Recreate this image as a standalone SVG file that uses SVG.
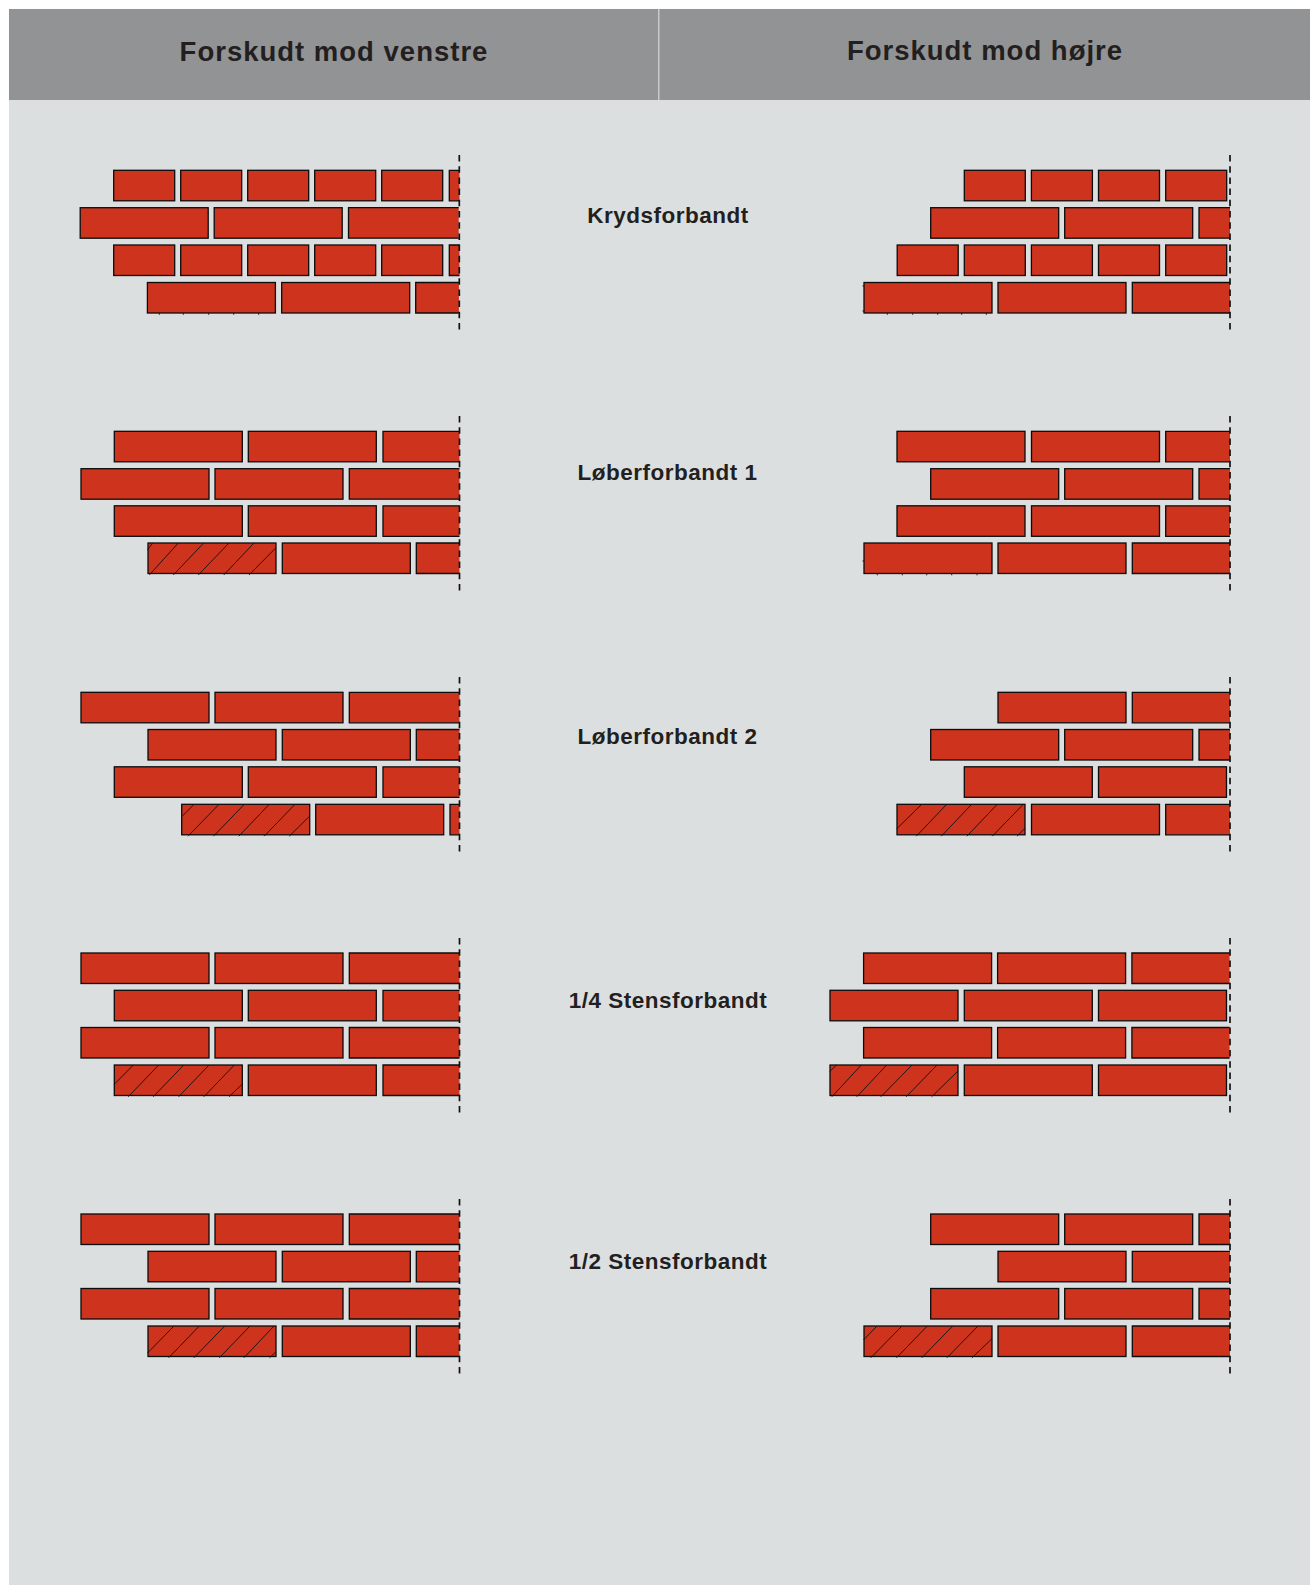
<svg xmlns="http://www.w3.org/2000/svg" width="1311" height="1585" viewBox="0 0 1311 1585">
<style>
.brick{fill:#cd331d;stroke:#0c0c0c;stroke-width:1.3}
.hatch{fill:none;stroke:#111;stroke-width:.9}
.edge{fill:none;stroke:#111;stroke-width:1.7;stroke-dasharray:6.5 4.7}
.head{font:bold 27.5px "Liberation Sans",Arial,sans-serif;letter-spacing:1px;fill:#231f20;text-anchor:middle}
.label{font:bold 22.5px "Liberation Sans",Arial,sans-serif;letter-spacing:.5px;fill:#231f20;text-anchor:middle}
</style>
<defs>
<rect id="L" class="brick" width="128" height="30.5"/>
<rect id="S" class="brick" width="61" height="30.5"/>
<g id="ra"><use href="#L" x="81"/><use href="#L" x="215"/><path class="brick" d="M459.5 0H349.3V30.5H459.5"/></g>
<g id="rb"><use href="#L" x="114.3"/><use href="#L" x="248.3"/><path class="brick" d="M459.5 0H383V30.5H459.5"/></g>
<g id="rc"><use href="#L" x="148"/><use href="#L" x="282.3"/><path class="brick" d="M459.5 0H416.3V30.5H459.5"/></g>
<g id="rd"><use href="#L" x="181.7"/><use href="#L" x="315.7"/><path class="brick" d="M459.5 0H450V30.5H459.5"/></g>
<g id="rs"><use href="#S" x="113.7"/><use href="#S" x="180.7"/><use href="#S" x="247.7"/><use href="#S" x="314.7"/><use href="#S" x="381.7"/><path class="brick" d="M459.5 0H449.3V30.5H459.5"/></g>
<g id="rA"><use href="#L" x="830"/><use href="#L" x="964.3"/><use href="#L" x="1098.5"/></g>
<g id="rB"><use href="#L" x="864"/><use href="#L" x="998"/><path class="brick" d="M1230 0H1132.3V30.5H1230"/></g>
<g id="rC"><use href="#L" x="897"/><use href="#L" x="1031.5"/><path class="brick" d="M1230 0H1165.7V30.5H1230"/></g>
<g id="rD"><use href="#L" x="930.7"/><use href="#L" x="1064.7"/><path class="brick" d="M1230 0H1199V30.5H1230"/></g>
<g id="rE"><use href="#L" x="964.3"/><use href="#L" x="1098.5"/></g>
<g id="rF"><use href="#L" x="998"/><path class="brick" d="M1230 0H1132.3V30.5H1230"/></g>
</defs>

<rect id="panel" x="9" y="9" width="1301" height="1576" fill="#dcdfe0"/>
<g id="header">
<rect x="9" y="9" width="1301" height="91" fill="#929395"/>
<rect x="658" y="9" width="1.5" height="91" fill="#c9cacc"/>
<text class="head" x="334" y="60.5">Forskudt mod venstre</text>
<text class="head" x="985" y="60">Forskudt mod højre</text>
</g>

<g id="labels">
<text class="label" x="668" y="223">Krydsforbandt</text>
<text class="label" x="667.5" y="480">Løberforbandt 1</text>
<text class="label" x="667.5" y="744">Løberforbandt 2</text>
<text class="label" x="668" y="1008">1/4 Stensforbandt</text>
<text class="label" x="668" y="1269">1/2 Stensforbandt</text>
</g>

<g id="wall-left-1">
<use href="#rs" y="170.3"/>
<use href="#ra" x="-.8" y="207.7"/>
<use href="#rs" y="245"/>
<use href="#rc" x="-.6" y="282.5"/>
<path class="hatch" d="M159.3 313v1.8M183.3 313v1.8M208.7 313v1.8M233.7 313v1.8M258.7 313v1.8"/>
<path class="edge" d="M459.3 155V330"/>
</g>
<g id="wall-right-1">
<use href="#S" x="964.3" y="170.3"/><use href="#S" x="1031.4" y="170.3"/><use href="#S" x="1098.5" y="170.3"/><use href="#S" x="1165.7" y="170.3"/>
<use href="#rD" y="207.7"/>
<use href="#S" x="897.2" y="245"/><use href="#S" x="964.3" y="245"/><use href="#S" x="1031.4" y="245"/><use href="#S" x="1098.5" y="245"/><use href="#S" x="1165.7" y="245"/>
<use href="#rB" y="282.5"/>
<path class="hatch" d="M887.3 313v1.8M912.7 313v1.8M937.7 313v1.8M961.7 313v1.8M986.3 313v1.8M862.5 286h1.5M862.5 311h1.5"/>
<path class="edge" d="M1230 155V330"/>
</g>

<g id="wall-left-2">
<use href="#rb" y="431.3"/>
<use href="#ra" y="468.7"/>
<use href="#rb" y="505.8"/>
<use href="#rc" y="543"/>
<path class="hatch" d="M147.3 550L152.7 543M149.3 575L178.3 543M173.3 575L203.7 543M198.3 575L229 543M223.7 575L254 543M249 575L275.7 548"/>
<path class="edge" d="M459.5 416V591"/>
</g>
<g id="wall-right-2">
<use href="#rC" y="431.3"/>
<use href="#rD" y="468.7"/>
<use href="#rC" y="505.8"/>
<use href="#rB" y="543"/>
<path class="hatch" d="M877.3 573.5v1.8M902.3 573.5v1.8M926.7 573.5v1.8M951.7 573.5v1.8M977 573.5v1.8M862.5 561h1.5"/>
<path class="edge" d="M1230 416V591"/>
</g>

<g id="wall-left-3">
<use href="#ra" y="692.3"/>
<use href="#rc" y="729.5"/>
<use href="#rb" y="766.8"/>
<use href="#rd" y="804.3"/>
<path class="hatch" d="M181.7 816.7L194 804.3M188 836.2L219 804.3M213.5 836.2L244.3 804.3M238.8 836.2L269.3 804.3M264.2 836.2L295 804.3M289.3 836.2L309.7 816"/>
<path class="edge" d="M459.5 677V852"/>
</g>
<g id="wall-right-3">
<use href="#rF" y="692.3"/>
<use href="#rD" y="729.5"/>
<use href="#rE" y="766.8"/>
<use href="#rC" y="804.3"/>
<path class="hatch" d="M896.5 829L921.7 804.3M916.3 836.2L946.7 804.3M941.3 836.2L971.7 804.3M966.9 836.2L997.3 804.3M992.3 836.2L1023.3 804.3M1017 836.2L1025 828.3"/>
<path class="edge" d="M1230 677V852"/>
</g>

<g id="wall-left-4">
<use href="#ra" y="953"/>
<use href="#rb" y="990.3"/>
<use href="#ra" y="1027.5"/>
<use href="#rb" y="1065"/>
<path class="hatch" d="M114.3 1084.3L133.3 1065M128.2 1096.8L158.7 1065M153.2 1096.8L183.7 1065M178.6 1096.8L209 1065M203.8 1096.8L234.3 1065M229 1096.8L242.3 1084"/>
<path class="edge" d="M459.5 938V1113"/>
</g>
<g id="wall-right-4">
<use href="#rB" x="-.4" y="953"/>
<use href="#rA" y="990.3"/>
<use href="#rB" x="-.4" y="1027.5"/>
<use href="#rA" y="1065"/>
<path class="hatch" d="M829.5 1071.7L836.5 1065M831.8 1096.8L861.3 1065M856.8 1096.8L886.7 1065M880.8 1096.8L912 1065M906.2 1096.8L937 1065M931.6 1096.8L958 1071"/>
<path class="edge" d="M1230 938V1113"/>
</g>

<g id="wall-left-5">
<use href="#ra" y="1214"/>
<use href="#rc" y="1251.3"/>
<use href="#ra" y="1288.5"/>
<use href="#rc" y="1326"/>
<path class="hatch" d="M147.5 1353L174 1326M168.6 1357.8L199.3 1326M193.9 1357.8L224.7 1326M219.3 1357.8L250 1326M243.9 1357.8L274 1326M269.6 1357.8L276 1351.7"/>
<path class="edge" d="M459.5 1199V1374"/>
</g>
<g id="wall-right-5">
<use href="#rD" y="1214"/>
<use href="#rF" y="1251.3"/>
<use href="#rD" y="1288.5"/>
<use href="#rB" y="1326"/>
<path class="hatch" d="M863.5 1340L877 1326M870.8 1357.8L902 1326M896.5 1357.8L927.3 1326M921.8 1357.8L952.7 1326M946.9 1357.8L978 1326M971.9 1357.8L991.7 1339"/>
<path class="edge" d="M1230 1199V1374"/>
</g>
</svg>
